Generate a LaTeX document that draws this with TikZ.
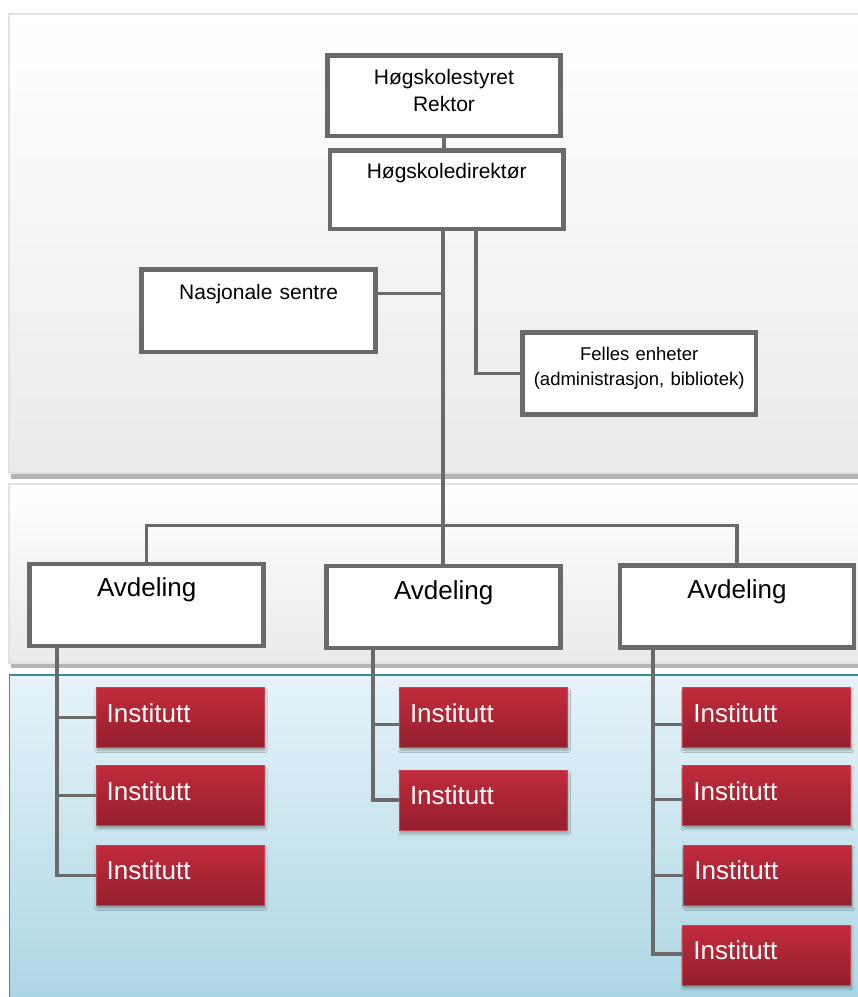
\documentclass[tikz,border=0pt]{standalone}
\usepackage{fontspec}
\setmainfont{Liberation Sans}
\usetikzlibrary{shadows.blur}
\definecolor{ln}{HTML}{6A6A6A}
\definecolor{bandgrey}{HTML}{EAEAEA}
\definecolor{bandedge}{HTML}{E2E2E2}
\definecolor{bandshadow}{HTML}{B4B4B4}
\definecolor{blueTop}{HTML}{E6F3F9}
\definecolor{blueBot}{HTML}{AAD5E3}
\definecolor{tealedge}{HTML}{3A8E9C}
\definecolor{instTop}{HTML}{C22B3C}
\definecolor{instBot}{HTML}{931F2D}
\definecolor{instBrd}{HTML}{C8424F}
\begin{document}
\begin{tikzpicture}[x=1pt,y=-1pt,
  wbox/.style={draw=ln, line width=4.5pt, fill=white, inner sep=0pt, outer sep=0pt,
    align=center, anchor=north, font=\fontsize{21}{26.7}\selectfont},
  avdbox/.style={wbox, text width=234pt, text height=33pt, text depth=49pt,
    font=\fontsize{26}{31}\selectfont},
  conn/.style={draw=ln, line width=3.4pt},
  inst/.style={draw=instBrd, line width=0.8pt, top color=instTop, bottom color=instBot,
    inner xsep=10.7pt, inner ysep=0pt, outer sep=0pt, text width=146.6pt,
    text height=34.5pt, text depth=25.5pt, align=left, anchor=north, text=white,
    font=\fontsize{26}{30}\selectfont,
    blur shadow={shadow xshift=1pt, shadow yshift=-3pt, shadow opacity=30, shadow blur steps=6}},
  bandbox/.style={top color=white, bottom color=bandgrey, draw=bandedge, line width=1.5pt}]
\useasboundingbox (0,0) rectangle (858,997);

% background bands
\fill[bandshadow] (11,473) rectangle (870,479);
\shadedraw[bandbox] (9,14) rectangle (870,473);
\fill[bandshadow] (11,663) rectangle (870,668);
\shadedraw[bandbox] (9,484) rectangle (870,663);
\shadedraw[top color=blueTop, bottom color=blueBot, draw=tealedge, line width=1.2pt]
  (9.5,675) rectangle (870,1010);

% white boxes
\node[wbox, text width=233pt, text height=28.8pt, text depth=51.7pt] (rek) at (444,55.5)
  {Høgskolestyret\\Rektor};
\node[wbox, text width=233.3pt, text height=27.5pt, text depth=51pt] (dir) at (446.7,150.5)
  {Høgskoledirektør};
\node[wbox, text width=233.8pt, text height=29.8pt, text depth=52.7pt] (nas) at (258.6,269.5)
  {Nasjonale sentre};
\node[wbox, text width=233.5pt, text height=28.2pt, text depth=54pt,
  font=\fontsize{18.5}{24.3}\selectfont] (fel) at (639.2,332.5)
  {Felles enheter\\(administrasjon, bibliotek)};
\node[avdbox, text height=32.2pt, text depth=50pt] (avd1) at (146.7,563.8) {Avdeling};
\node[avdbox, text height=33.5pt, text depth=48.5pt] (avd2) at (443.7,565.8) {Avdeling};
\node[avdbox, text height=32.8pt, text depth=49.2pt] (avd3) at (737,565.5) {Avdeling};

% institutt boxes
\node[inst] (i11) at (180,687.5) {Institutt};
\node[inst] (i12) at (180,765.7) {Institutt};
\node[inst] (i13) at (180,845.3) {Institutt};
\node[inst] (i21) at (483.3,687.5) {Institutt};
\node[inst] (i22) at (483.3,770) {Institutt};
\node[inst] (i31) at (766.7,687.5) {Institutt};
\node[inst] (i32) at (766.7,765.7) {Institutt};
\node[inst] (i33) at (767.7,845.3) {Institutt};
\node[inst] (i34) at (766.7,925) {Institutt};

% helper coordinates
\coordinate (mx) at (443,0);
\coordinate (fx) at (476,0);
\coordinate (nasy) at (0,293.3);
\coordinate (bary) at (0,525.5);
\coordinate (v1) at (57,0);
\coordinate (v2) at (373,0);
\coordinate (v3) at (653,0);

% connectors
\draw[conn] (rek.south) -- (rek.south |- dir.north);
\draw[conn] (dir.south -| mx) -- (avd2.north -| mx);
\draw[conn] (nas.east |- nasy) -- (mx |- nasy);
\draw[conn] (dir.south -| fx) |- (fel.west);
\draw[conn] (avd1.north) -- (avd1.north |- bary) -- (avd3.north |- bary) -- (avd3.north);

\draw[conn] (avd1.south -| v1) |- (i13.west);
\draw[conn] (v1 |- i11.west) -- (i11.west);
\draw[conn] (v1 |- i12.west) -- (i12.west);

\draw[conn] (avd2.south -| v2) |- (i22.west);
\draw[conn] ([yshift=-7pt]v2 |- i21.west) -- ([yshift=-7pt]i21.west);

\draw[conn] (avd3.south -| v3) |- ([yshift=1pt]i34.west);
\draw[conn] ([yshift=-7pt]v3 |- i31.west) -- ([yshift=-7pt]i31.west);
\draw[conn] ([yshift=-4pt]v3 |- i32.west) -- ([yshift=-4pt]i32.west);
\draw[conn] (v3 |- i33.west) -- (i33.west);
\end{tikzpicture}
\end{document}
